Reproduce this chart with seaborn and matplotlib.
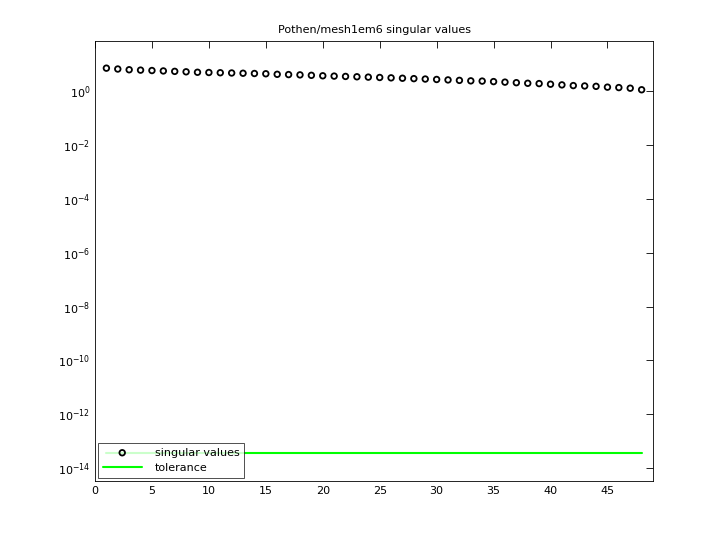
import numpy as np
import matplotlib
matplotlib.use("Agg")
import matplotlib.pyplot as plt
import seaborn as sns

idx = list(range(1, 49))
singular_values = [7.1, 6.6, 6.2, 6.0, 5.8, 5.6, 5.4, 5.2, 5.0, 4.9, 4.8, 4.7, 4.6, 4.5, 4.4, 4.2,
                   4.1, 4.0, 3.85, 3.7, 3.6, 3.5, 3.4, 3.3, 3.2, 3.1, 3.0, 2.9, 2.8, 2.7, 2.6, 2.5,
                   2.4, 2.35, 2.25, 2.15, 2.05, 1.95, 1.9, 1.8, 1.7, 1.6, 1.55, 1.5, 1.4, 1.35, 1.28, 1.12]
tol_x = [1, 48]
tol_y = [3.6e-14, 3.6e-14]
xticks = [0, 5, 10, 15, 20, 25, 30, 35, 40, 45]
yexps = [0, -2, -4, -6, -8, -10, -12, -14]

sns.set_style("white")
plt.rcParams['font.family'] = ['DejaVu Sans']
plt.rcParams['text.color'] = 'black'
plt.rcParams['xtick.color'] = 'black'
plt.rcParams['ytick.color'] = 'black'
fig = plt.figure(figsize=(7.2, 5.4), dpi=100)
ax = fig.add_axes([95/720, 1-481/540, (653-95)/720, (481-41)/540])
sns.scatterplot(x=idx, y=singular_values, ax=ax, marker='o', s=16, facecolor='none',
                edgecolor='black', linewidth=1.3, label='singular values')
sns.lineplot(x=tol_x, y=tol_y, ax=ax, color='#00ff00', linewidth=1.5, label='tolerance')
ax.set_yscale('log')
ax.set_xlim(0, 49)
ax.set_ylim(10**-14.48, 10**1.86)
ax.set_xticks(xticks)
ax.set_xticklabels([str(t) for t in xticks], fontsize=8)
ax.set_yticks([10.0**e for e in yexps])
ax.set_yticklabels([f"$10^{{{e}}}$" for e in yexps], fontsize=8)
ax.yaxis.set_minor_locator(matplotlib.ticker.NullLocator())
ax.tick_params(direction='in', length=5, top=True, right=True, width=0.6)
for s in ax.spines.values():
    s.set_linewidth(0.6); s.set_color('black')
ax.set_title('Pothen/mesh1em6 singular values', fontsize=8)
leg = ax.legend(loc='lower left', fontsize=8, frameon=True, fancybox=False, borderaxespad=0.3,
                handlelength=3.5, handletextpad=1.2)
leg.get_frame().set_edgecolor('black'); leg.get_frame().set_linewidth(0.6)
for t in leg.get_texts():
    t.set_color('black')
fig.savefig('out.png', dpi=100)
